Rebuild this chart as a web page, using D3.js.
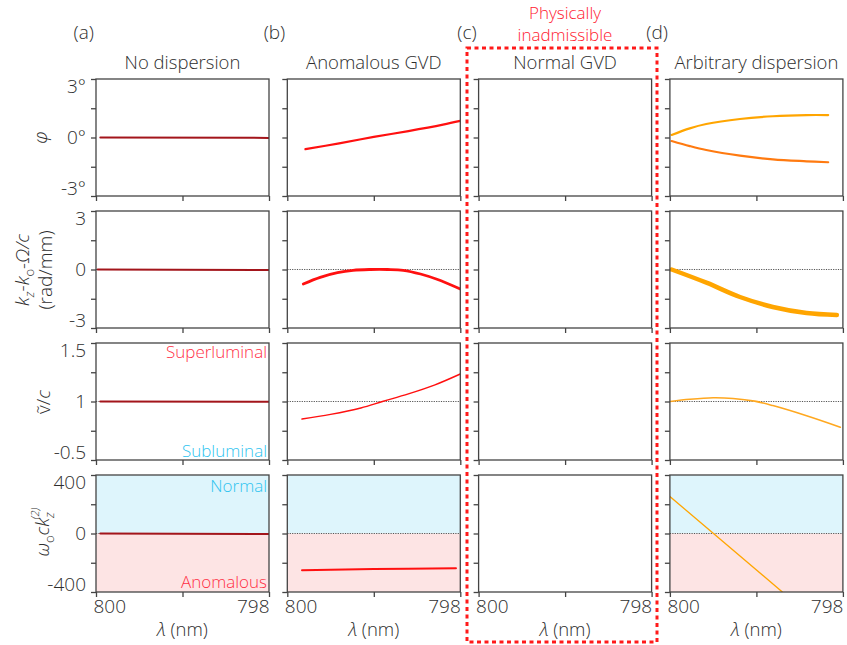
<!DOCTYPE html>
<html>
<head>
<meta charset="utf-8">
<script src="https://cdn.jsdelivr.net/npm/d3@7"></script>
<style>
  body { margin: 0; background: #fff; }
  svg { display: block; font-family: "Open Sans", Lato, sans-serif; font-weight: 300; }
</style>
</head>
<body>
<svg id="chart" width="847" height="645"></svg>
<script>
// Column titles and panel letters
const titles = ['No dispersion', 'Anomalous GVD', 'Normal GVD', 'Arbitrary dispersion'];
const letters = ['(a)', '(b)', '(c)', '(d)'];

// Wavelength axis (reversed)
const xDomain = [800, 798];
const xTicks = [800, 799, 798];
const xTickLabels = { '800': '800', '798': '798' };

// Row axes
const yDomains = [[-3, 3], [-3, 3], [0.5, 1.5], [-400, 400]];
const yTicks = [
  [-3, -1.5, 0, 1.5, 3],
  [-3, -1.5, 0, 1.5, 3],
  [0.5, 0.75, 1, 1.25, 1.5],
  [-400, -200, 0, 200, 400]
];
const yTickLabels = [
  { '3': '3°', '0': '0°', '-3': '-3°' },
  { '3': '3', '0': '0', '-3': '-3' },
  { '1.5': '1.5', '1': '1', '0.5': '-0.5' },
  { '400': '400', '0': '0', '-400': '-400' }
];
const refLines = [null, 0, 1, 0];

// Series [wavelength nm, value]
const phiNone = [[799.95, 0], [798.0, -0.02]];
const phiAnom = [[799.79, -0.6], [799.4, -0.3], [799.0, 0.03], [798.6, 0.33], [798.2, 0.66], [798.0, 0.85]];
const phiArbUp = [[799.98, 0.13], [799.77, 0.47], [799.58, 0.69], [799.19, 0.95], [798.81, 1.09], [798.42, 1.15], [798.17, 1.15]];
const phiArbLow = [[799.98, -0.18], [799.77, -0.44], [799.58, -0.64], [799.19, -0.93], [798.81, -1.12], [798.42, -1.22], [798.17, -1.27]];

const kNone = [[799.98, 0], [798.0, -0.03]];
const kAnom = [[799.815, -0.74], [799.62, -0.4], [799.42, -0.16], [799.24, -0.04], [799.04, 0], [798.84, 0],
               [798.66, -0.04], [798.46, -0.23], [798.27, -0.5], [798.0, -1.0]];
const kArb = [[799.98, 0], [799.57, -0.69], [799.19, -1.41], [798.81, -1.92], [798.42, -2.23], [798.07, -2.33]];

const vNone = [[799.95, 1], [798.0, 0.998]];
const vAnom = [[799.83, 0.85], [799.5, 0.89], [799.15, 0.945], [798.9, 1.0], [798.6, 1.065], [798.3, 1.14], [798.0, 1.235]];
const vArb = [[800.0, 1.0], [799.77, 1.019], [799.5, 1.032], [799.27, 1.026], [799.02, 1.003], [798.81, 0.965], [798.42, 0.878], [798.03, 0.78]];

const gvdNone = [[799.95, 0], [798.0, -3]];
const gvdAnom = [[799.83, -251], [799.0, -243], [798.05, -237]];
const gvdArb = [[800.0, 253], [798.7, -400]];

const series = [
  { row: 0, col: 0, data: phiNone, color: '#a3151b', width: 2 },
  { row: 0, col: 1, data: phiAnom, color: '#ff1010', width: 2.2 },
  { row: 0, col: 3, data: phiArbUp, color: '#ffa500', width: 2.2 },
  { row: 0, col: 3, data: phiArbLow, color: '#ff7a10', width: 2.2 },
  { row: 1, col: 0, data: kNone, color: '#a3151b', width: 2 },
  { row: 1, col: 1, data: kAnom, color: '#ff1010', width: 2.8 },
  { row: 1, col: 3, data: kArb, color: '#ffa500', width: 4.5 },
  { row: 2, col: 0, data: vNone, color: '#a3151b', width: 2 },
  { row: 2, col: 1, data: vAnom, color: '#ff1010', width: 1.5 },
  { row: 2, col: 3, data: vArb, color: '#ffa820', width: 1.6 },
  { row: 3, col: 0, data: gvdNone, color: '#a3151b', width: 2 },
  { row: 3, col: 1, data: gvdAnom, color: '#ff1010', width: 2 },
  { row: 3, col: 3, data: gvdArb, color: '#ffa500', width: 1.3 }
];

// Layout
const plotLeft = 96, plotTop = 79, pw = 173, ph = 117, gapX = 18.3, gapY = 15;
const textColor = '#2e2e2e';
const svg = d3.select('#chart');

const colLeft = (c) => plotLeft + c * (pw + gapX);
const rowTop = (r) => plotTop + r * (ph + gapY);

const defs = svg.append('defs');

for (let r = 0; r < 4; r++) {
  for (let c = 0; c < 4; c++) {
    const x0 = colLeft(c), y0 = rowTop(r);
    const x = d3.scaleLinear().domain(xDomain).range([x0, x0 + pw]);
    const y = d3.scaleLinear().domain(yDomains[r]).range([y0 + ph, y0]);
    const g = svg.append('g');
    const id = `clip-${r}-${c}`;
    defs.append('clipPath').attr('id', id)
      .append('rect').attr('x', x0).attr('y', y0).attr('width', pw).attr('height', ph);

    // normal / anomalous shading
    if (r === 3 && c !== 2) {
      g.append('rect').attr('x', x0).attr('y', y(400)).attr('width', pw)
        .attr('height', y(0) - y(400)).attr('fill', '#def5fc');
      g.append('rect').attr('x', x0).attr('y', y(0)).attr('width', pw)
        .attr('height', y(-400) - y(0)).attr('fill', '#fde4e4');
    }

    if (refLines[r] !== null && c !== 2) {
      g.append('line')
        .attr('x1', x0).attr('x2', x0 + pw)
        .attr('y1', y(refLines[r])).attr('y2', y(refLines[r]))
        .attr('stroke', '#555').attr('stroke-width', 1)
        .attr('stroke-dasharray', '1.2 1.2');
    }

    const line = d3.line().x(d => x(d[0])).y(d => y(d[1])).curve(d3.curveCatmullRom.alpha(0.5));
    series.filter(s => s.row === r && s.col === c).forEach(s => {
      g.append('path')
        .attr('clip-path', `url(#${id})`)
        .attr('d', line(s.data))
        .attr('fill', 'none')
        .attr('stroke', s.color)
        .attr('stroke-width', s.width)
        .attr('stroke-linecap', 'round');
    });

    // frame
    g.append('rect').attr('x', x0).attr('y', y0).attr('width', pw).attr('height', ph)
      .attr('fill', 'none').attr('stroke', '#444').attr('stroke-width', 1.3);

    // y axis
    const [ymin, ymax] = yDomains[r];
    const ya = g.append('g')
      .attr('transform', `translate(${x0},0)`)
      .call(d3.axisLeft(y).tickValues(yTicks[r]).tickSize(5).tickSizeOuter(0).tickPadding(5)
        .tickFormat(d => c === 0 ? (yTickLabels[r][String(d)] || '') : ''));
    ya.select('.domain').remove();
    ya.attr('font-family', null).attr('font-size', null);
    ya.selectAll('.tick line').attr('stroke', '#444').attr('stroke-width', 1.3);
    ya.selectAll('.tick text')
      .attr('font-size', 19).attr('fill', textColor)
      .attr('dy', d => d === ymax ? '0.72em' : d === ymin ? '-0.1em' : '0.34em');

    // x axis
    const xa = g.append('g')
      .attr('transform', `translate(0,${y0 + ph})`)
      .call(d3.axisBottom(x).tickValues(xTicks).tickSize(5).tickSizeOuter(0).tickPadding(3)
        .tickFormat(d => r === 3 ? (xTickLabels[String(d)] || '') : ''));
    xa.select('.domain').remove();
    xa.attr('font-family', null).attr('font-size', null);
    xa.selectAll('.tick line').attr('stroke', '#444').attr('stroke-width', 1.3);
    xa.selectAll('.tick text')
      .attr('font-size', 19).attr('fill', textColor)
      .attr('text-anchor', d => d === 800 ? 'start' : 'end')
      .attr('dx', d => d === 800 ? -3 : 0);
  }
}

// column titles, letters, x labels
titles.forEach((t, c) => {
  const cx = colLeft(c) + pw / 2;
  svg.append('text').attr('x', cx).attr('y', 69).attr('text-anchor', 'middle')
    .attr('font-size', 18.5).attr('fill', textColor).text(t);
  svg.append('text').attr('x', colLeft(c) - 2).attr('y', 39).attr('text-anchor', 'end')
    .attr('font-size', 19).attr('fill', textColor).text(letters[c]);
  const xl = svg.append('text').attr('x', cx).attr('y', 636).attr('text-anchor', 'middle')
    .attr('font-size', 18.5).attr('fill', textColor);
  xl.append('tspan').attr('font-style', 'italic').text('λ');
  xl.append('tspan').text(' (nm)');
});

// region annotations in column (a)
const annot = [
  { text: 'Superluminal', y: 358, color: '#ff3045' },
  { text: 'Subluminal', y: 457, color: '#30c4f0' },
  { text: 'Normal', y: 492, color: '#30c4f0' },
  { text: 'Anomalous', y: 588, color: '#ff3045' }
];
annot.forEach(a => {
  svg.append('text').attr('x', colLeft(0) + pw - 2).attr('y', a.y).attr('text-anchor', 'end')
    .attr('font-size', 17).attr('fill', a.color).text(a.text);
});

// y labels
function yLabel(cx, cy) {
  return svg.append('text')
    .attr('transform', `translate(${cx},${cy}) rotate(-90)`)
    .attr('text-anchor', 'middle').attr('dy', '0.35em')
    .attr('font-size', 19).attr('fill', textColor);
}
yLabel(40, 137.5).append('tspan').attr('font-style', 'italic').text('φ');

const k1 = yLabel(22, 270);
k1.append('tspan').attr('font-style', 'italic').text('k');
k1.append('tspan').attr('font-style', 'italic').attr('font-size', 13).attr('dy', 5).text('z');
k1.append('tspan').attr('dy', -5).text('-');
k1.append('tspan').attr('font-style', 'italic').text('k');
k1.append('tspan').attr('font-size', 13).attr('dy', 5).text('o');
k1.append('tspan').attr('dy', -5).attr('font-style', 'italic').text('-Ω/c');
yLabel(45, 270).text('(rad/mm)');

const v1 = yLabel(43, 402);
v1.append('tspan').text('ṽ/');
v1.append('tspan').attr('font-style', 'italic').text('c');

const w1 = yLabel(42, 532);
w1.append('tspan').attr('font-style', 'italic').text('ω');
w1.append('tspan').attr('font-size', 13).attr('dy', 5).text('o');
w1.append('tspan').attr('dy', -5).attr('font-style', 'italic').text('ck');
w1.append('tspan').attr('font-style', 'italic').attr('font-size', 13).attr('dy', 5).text('z');
w1.append('tspan').attr('font-style', 'italic').attr('font-size', 11).attr('dx', -7).attr('dy', -15).text('(2)');

// physically inadmissible box
svg.append('rect').attr('x', 467).attr('y', 48).attr('width', 190).attr('height', 594)
  .attr('fill', 'none').attr('stroke', '#ff1a1a').attr('stroke-width', 3)
  .attr('stroke-dasharray', '4 3.5');
svg.append('text').attr('x', 565).attr('y', 19).attr('text-anchor', 'middle')
  .attr('font-size', 17).attr('fill', '#ff2030').text('Physically');
svg.append('text').attr('x', 565).attr('y', 41).attr('text-anchor', 'middle')
  .attr('font-size', 17).attr('fill', '#ff2030').text('inadmissible');
</script>
</body>
</html>
